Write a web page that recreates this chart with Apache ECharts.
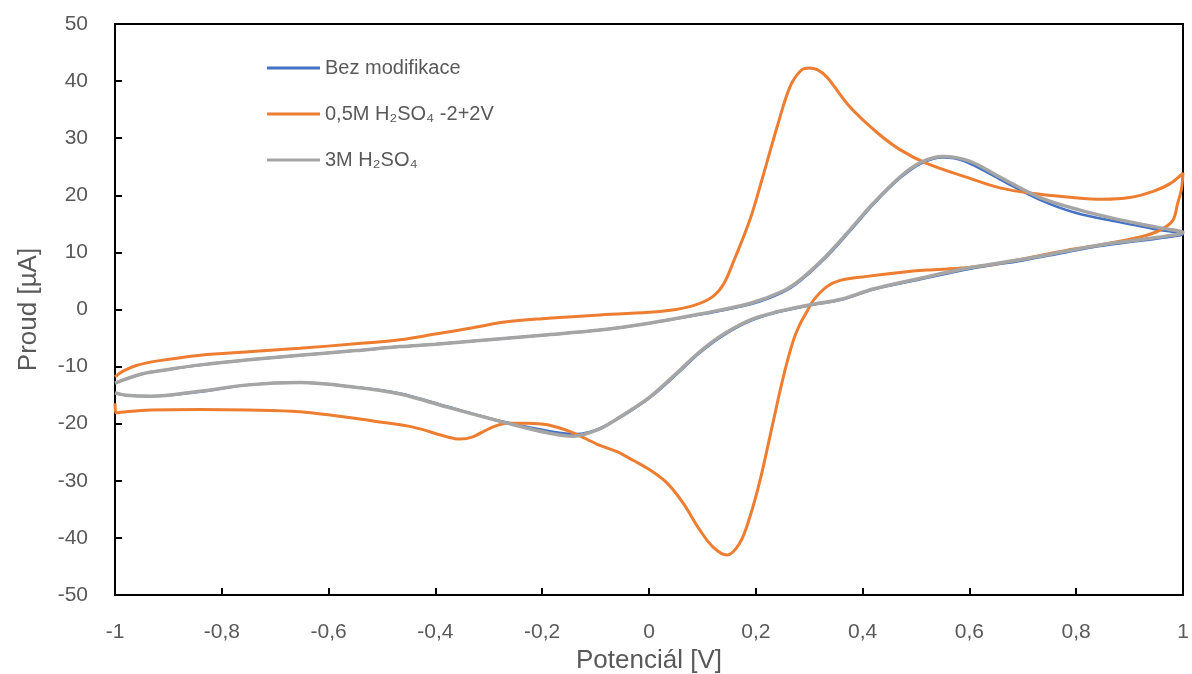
<!DOCTYPE html>
<html>
<head>
<meta charset="utf-8">
<script src="https://cdn.jsdelivr.net/npm/echarts@6/dist/echarts.min.js"></script>
<style>
  html, body { margin: 0; padding: 0; background: #fff; }
  #cv { width: 1192px; height: 674px; }
</style>
</head>
<body>
<div id="cv"></div>
<script>
// Bez modifikace (blue)
const bezE = [-1, -0.95, -0.9, -0.84, -0.75, -0.654, -0.55, -0.466, -0.4, -0.3, -0.2, -0.092, 0, 0.095, 0.19, 0.25, 0.283, 0.33, 0.376, 0.42, 0.47, 0.51, 0.55, 0.59, 0.657, 0.73, 0.8, 0.88, 0.95, 1.0,
  0.95, 0.9, 0.845, 0.78, 0.7, 0.6, 0.5, 0.42, 0.36, 0.3, 0.24, 0.19, 0.14, 0.095, 0.05, 0.002, -0.054, -0.097, -0.135, -0.18, -0.266, -0.378, -0.466, -0.55, -0.654, -0.75, -0.84, -0.934, -0.98, -1.0]
const bezI = [-12.9, -11.3, -10.5, -9.7, -8.8, -8.0, -7.2, -6.5, -6.1, -5.3, -4.5, -3.6, -2.4, -0.9, 0.9, 3.0, 5.0, 9.0, 13.7, 18.4, 23.0, 25.6, 26.6, 26.0, 22.8, 19.3, 16.9, 15.3, 14.0, 13.2,
  12.4, 11.8, 11.1, 10.0, 8.6, 7.1, 5.1, 3.5, 1.7, 0.7, -0.5, -2.0, -4.5, -7.6, -11.5, -15.4, -18.9, -21.0, -21.8, -21.4, -19.8, -17.0, -14.7, -13.6, -12.8, -13.2, -14.4, -15.2, -15.0, -14.6]

// 0,5M H2SO4 -2+2V (orange)
const oxE = [-1, -0.985, -0.96, -0.92, -0.84, -0.75, -0.654, -0.55, -0.466, -0.4, -0.33, -0.27, -0.2, -0.1, 0, 0.05, 0.09, 0.12, 0.14, 0.16, 0.189, 0.213, 0.24, 0.264, 0.285, 0.3, 0.315, 0.333, 0.376, 0.427, 0.47, 0.52, 0.6, 0.657, 0.72, 0.783, 0.85, 0.9, 0.944, 0.975, 1.0,
  0.997, 0.99, 0.981, 0.957, 0.92, 0.845, 0.783, 0.657, 0.595, 0.52, 0.47, 0.408, 0.358, 0.333, 0.307, 0.295, 0.283, 0.27, 0.251, 0.232, 0.208, 0.189, 0.17, 0.146, 0.12, 0.095, 0.064, 0.034, 0.002, -0.03, -0.06, -0.097, -0.142, -0.19, -0.228, -0.266, -0.298, -0.33, -0.354, -0.378, -0.442, -0.504, -0.58, -0.654, -0.75, -0.84, -0.934, -0.99, -0.998, -1.0]
const oxI = [-11.8, -10.8, -9.8, -9.0, -8.0, -7.4, -6.8, -6.0, -5.3, -4.3, -3.2, -2.2, -1.6, -1.0, -0.5, 0.0, 0.9, 2.3, 4.5, 8.8, 15.7, 23.2, 32.0, 39.0, 41.9, 42.3, 42.0, 40.7, 35.5, 31.0, 28.0, 25.6, 23.0, 21.3, 20.3, 19.7, 19.3, 19.6, 20.7, 22.0, 23.9,
  21.0, 18.6, 15.6, 13.9, 12.7, 11.3, 10.4, 8.1, 7.3, 6.9, 6.5, 5.8, 5.1, 4.0, 1.5, -0.5, -2.5, -5.5, -12.0, -19.9, -29.9, -36.3, -40.9, -43.0, -41.6, -38.6, -33.9, -30.4, -28.1, -26.4, -24.9, -23.6, -21.6, -20.2, -19.9, -19.9, -20.8, -22.3, -22.7, -22.3, -20.6, -19.7, -18.7, -17.9, -17.6, -17.5, -17.6, -18.0, -18.1, -16.4]

// 3M H2SO4 (gray)
const grE = [-1, -0.95, -0.9, -0.84, -0.75, -0.654, -0.55, -0.466, -0.4, -0.3, -0.2, -0.092, 0, 0.095, 0.19, 0.25, 0.283, 0.33, 0.376, 0.42, 0.47, 0.51, 0.55, 0.6, 0.657, 0.73, 0.807, 0.882, 0.957, 1.0,
  0.95, 0.9, 0.845, 0.78, 0.7, 0.6, 0.5, 0.42, 0.36, 0.3, 0.24, 0.19, 0.14, 0.095, 0.05, 0.002, -0.054, -0.097, -0.142, -0.19, -0.266, -0.378, -0.466, -0.55, -0.654, -0.75, -0.84, -0.934, -0.98, -1.0]
const grI = [-12.9, -11.3, -10.5, -9.7, -8.8, -8.0, -7.2, -6.5, -6.1, -5.3, -4.5, -3.6, -2.4, -0.8, 1.1, 3.2, 5.2, 9.2, 13.9, 18.6, 23.2, 25.8, 26.8, 26.0, 23.2, 19.7, 17.4, 15.7, 14.3, 13.5,
  12.6, 12.0, 11.3, 10.2, 8.8, 7.3, 5.3, 3.6, 1.8, 0.8, -0.4, -1.8, -4.3, -7.4, -11.3, -15.3, -18.8, -21.1, -22.2, -21.6, -19.9, -17.1, -14.8, -13.6, -12.8, -13.2, -14.3, -15.2, -15.0, -14.6]

const names = ['Bez modifikace', '0,5M H\u2082SO\u2084 -2+2V', '3M H\u2082SO\u2084']
const colors = ['#4472C4', '#ED7D31', '#A5A5A5']
const widths = [2.5, 3, 3.5]

const zip = (e, i) => e.map((v, k) => [v, i[k]])
const sets = [zip(bezE, bezI), zip(oxE, oxI), zip(grE, grI)]

const comma = v => String(Math.round(v * 10) / 10).replace('.', ',')

let chart = echarts.init(document.getElementById('cv'))

let option = {
  animation: false,
  textStyle: { fontFamily: 'Liberation Sans' },
  grid: {
    left: 115, right: 9, top: 24, bottom: 79,
    outerBoundsMode: 'none',
    containLabel: false,
    show: true, borderColor: '#000', borderWidth: 2
  },
  legend: {
    orient: 'vertical',
    left: 262,
    top: 53,
    itemGap: 26,
    icon: 'rect',
    itemWidth: 53,
    itemHeight: 3,
    textStyle: { fontSize: 20, color: '#595959', fontFamily: 'Liberation Sans' },
    data: names
  },
  xAxis: {
    type: 'value',
    min: -1,
    max: 1,
    interval: 0.2,
    name: 'Potenciál [V]',
    nameLocation: 'middle',
    nameGap: 53,
    nameTextStyle: { fontSize: 26, color: '#595959' },
    splitLine: { show: false },
    axisLine: { onZero: false, lineStyle: { color: '#000', width: 2 } },
    axisTick: { inside: true, length: 7, lineStyle: { color: '#000', width: 2 } },
    axisLabel: { margin: 27, fontSize: 21, color: '#595959', formatter: comma }
  },
  yAxis: {
    type: 'value',
    min: -50,
    max: 50,
    interval: 10,
    name: 'Proud [\u00b5A]',
    nameLocation: 'middle',
    nameGap: 73,
    nameTextStyle: { fontSize: 26, color: '#595959' },
    splitLine: { show: false },
    axisLine: { onZero: false, lineStyle: { color: '#000', width: 2 } },
    axisTick: { inside: true, length: 7, lineStyle: { color: '#000', width: 2 } },
    axisLabel: { margin: 27, fontSize: 21, color: '#595959' }
  },
  series: sets.map((d, k) => ({
    name: names[k],
    type: 'line',
    data: d,
    smooth: 0.35,
    showSymbol: false,
    symbol: 'none',
    lineStyle: { color: colors[k], width: widths[k] },
    itemStyle: { color: colors[k] }
  }))
}

chart.setOption(option)
</script>
</body>
</html>
